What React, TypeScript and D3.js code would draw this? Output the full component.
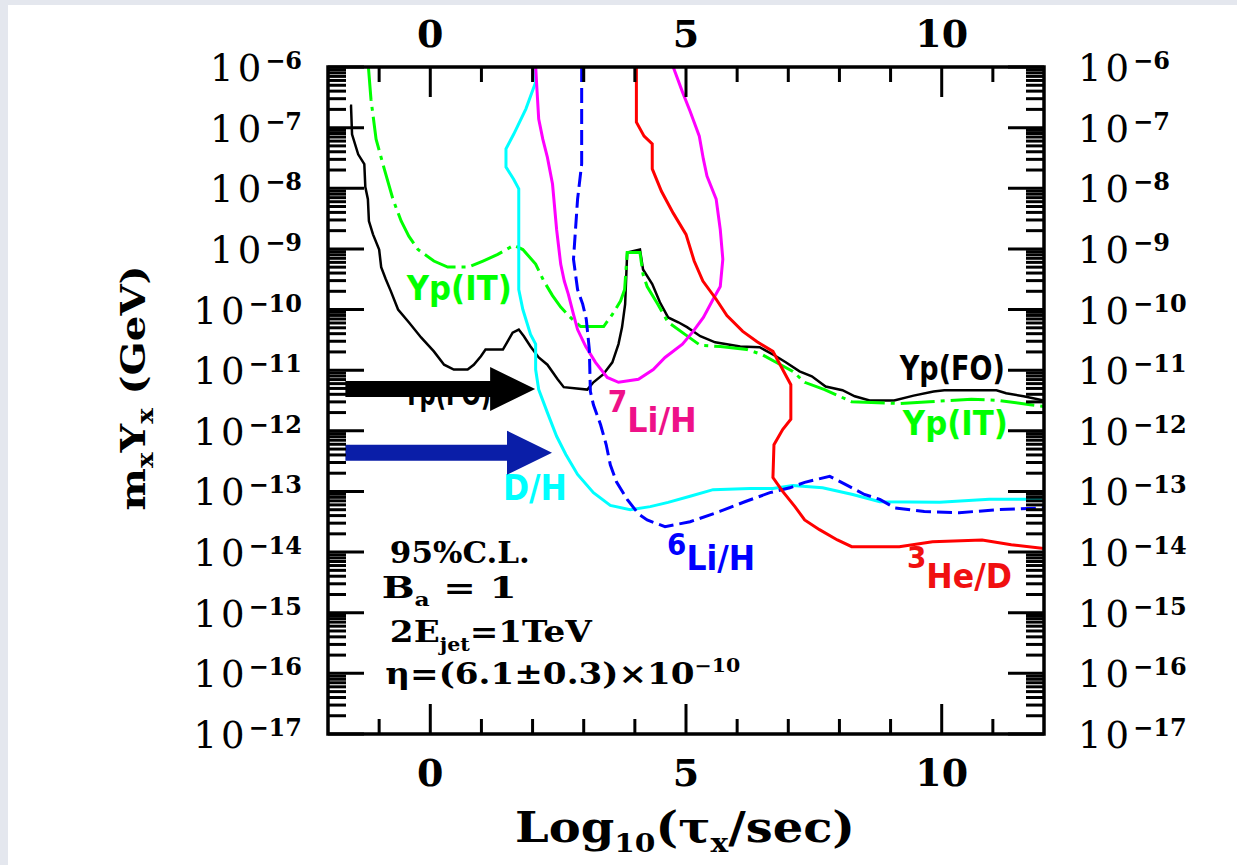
import React from "react";
import * as d3 from "d3";

// x = log10(tau_X / sec), y = log10(m_X Y_X / GeV)
const ypFO = [
  [-1.57, -6.64], [-1.55, -6.64], [-1.53, -7.11], [-1.41, -7.44], [-1.29, -7.6], [-1.27, -7.98],
  [-1.22, -8.18], [-1.2, -8.54], [-1.12, -8.76], [-1.0, -9.01], [-0.96, -9.3], [-0.87, -9.5],
  [-0.77, -9.7], [-0.63, -10.0], [-0.42, -10.21], [-0.18, -10.46], [0.07, -10.69], [0.27, -10.91],
  [0.46, -10.99], [0.73, -10.99], [0.85, -10.91], [0.99, -10.77], [1.08, -10.66], [1.42, -10.66],
  [1.51, -10.53], [1.61, -10.38], [1.73, -10.33], [1.83, -10.44], [1.96, -10.61], [2.12, -10.79],
  [2.29, -10.91], [2.49, -11.15], [2.61, -11.28], [3.07, -11.32], [3.19, -11.2], [3.38, -11.07],
  [3.56, -10.87], [3.68, -10.57], [3.75, -10.29], [3.81, -9.91], [3.85, -9.06], [4.1, -9.01],
  [4.16, -9.34], [4.34, -9.58], [4.49, -9.88], [4.65, -10.13], [4.85, -10.21], [5.02, -10.29],
  [5.28, -10.44], [5.57, -10.54], [6.06, -10.61], [6.44, -10.62], [6.76, -10.77], [6.95, -10.87],
  [7.22, -11.02], [7.46, -11.1], [7.73, -11.27], [8.06, -11.33], [8.3, -11.43], [8.59, -11.5],
  [9.07, -11.5], [9.45, -11.42], [9.84, -11.35], [10.05, -11.33], [11.07, -11.33], [11.26, -11.38],
  [11.6, -11.43], [12.0, -11.5],
];

const ypIT = [
  [-1.21, -6.0], [-1.16, -6.53], [-1.06, -7.19], [-0.9, -7.68], [-0.73, -8.18], [-0.57, -8.54],
  [-0.42, -8.79], [-0.24, -9.01], [0.07, -9.2], [0.34, -9.3], [0.75, -9.3], [1.03, -9.2],
  [1.32, -9.09], [1.63, -8.94], [1.81, -9.01], [2.06, -9.25], [2.22, -9.53], [2.39, -9.77],
  [2.55, -9.96], [2.74, -10.13], [2.94, -10.28], [3.39, -10.28], [3.56, -10.08], [3.72, -9.86],
  [3.8, -9.67], [3.85, -9.06], [4.1, -9.06], [4.16, -9.42], [4.24, -9.62], [4.44, -9.9],
  [4.65, -10.21], [4.98, -10.41], [5.28, -10.59], [5.67, -10.61], [6.19, -10.66], [6.48, -10.74],
  [6.76, -10.87], [7.09, -11.02], [7.32, -11.2], [7.71, -11.32], [8.24, -11.52], [9.17, -11.55],
  [9.76, -11.52], [10.58, -11.48], [11.13, -11.5], [11.73, -11.57], [12.0, -11.6],
];

const dH = [
  [2.06, -6.0], [2.06, -6.25], [1.87, -6.69], [1.63, -7.11], [1.48, -7.35], [1.48, -7.65],
  [1.63, -7.85], [1.73, -8.01], [1.73, -9.67], [1.81, -10.0], [1.96, -10.41], [2.06, -10.57],
  [2.06, -10.99], [2.12, -11.32], [2.29, -11.7], [2.47, -12.09], [2.65, -12.39], [2.88, -12.72],
  [3.19, -13.02], [3.52, -13.23], [3.91, -13.3], [4.3, -13.25], [4.65, -13.18], [5.08, -13.08],
  [5.53, -12.97], [6.25, -12.95], [6.7, -12.95], [7.09, -12.9], [7.67, -12.94], [8.26, -13.05],
  [8.79, -13.17], [9.96, -13.18], [10.93, -13.13], [12.0, -13.13],
];

const li7H = [
  [2.06, -6.0], [2.12, -6.86], [2.2, -7.19], [2.29, -7.49], [2.39, -7.93], [2.47, -8.68],
  [2.55, -9.25], [2.62, -9.53], [2.7, -9.75], [2.8, -10.08], [2.88, -10.33], [3.04, -10.61],
  [3.23, -10.87], [3.46, -11.12], [3.68, -11.2], [4.07, -11.15], [4.36, -10.99], [4.59, -10.79],
  [4.93, -10.57], [5.14, -10.36], [5.34, -10.13], [5.53, -9.83], [5.67, -9.62], [5.72, -9.17],
  [5.67, -8.68], [5.59, -8.18], [5.41, -7.8], [5.34, -7.52], [5.26, -7.14], [5.08, -6.73],
  [4.93, -6.41], [4.75, -6.0],
];

const li6H = [
  [2.96, -6.0], [2.96, -7.6], [2.88, -8.18], [2.8, -9.17], [2.88, -9.67], [2.98, -9.91],
  [3.05, -10.16], [3.11, -10.66], [3.13, -11.35], [3.19, -11.57], [3.33, -11.9], [3.44, -12.23],
  [3.52, -12.56], [3.64, -12.84], [3.85, -13.13], [4.07, -13.37], [4.24, -13.47], [4.59, -13.58],
  [5.08, -13.5], [5.66, -13.33], [6.15, -13.17], [6.64, -13.02], [7.03, -12.94], [7.32, -12.85],
  [7.81, -12.75], [8.2, -12.92], [8.49, -13.05], [8.79, -13.13], [9.08, -13.27], [9.66, -13.33],
  [10.34, -13.35], [11.12, -13.3], [12.0, -13.27],
];

const he3D = [
  [4.03, -6.0], [4.03, -6.91], [4.18, -7.14], [4.34, -7.27], [4.34, -7.68], [4.52, -8.05],
  [4.75, -8.41], [5.0, -8.76], [5.16, -9.2], [5.33, -9.53], [5.59, -9.83], [5.8, -10.1],
  [6.11, -10.36], [6.39, -10.53], [6.7, -10.69], [6.89, -10.99], [7.05, -11.24], [7.05, -11.81],
  [6.89, -11.98], [6.72, -12.23], [6.7, -12.77], [6.89, -13.0], [7.13, -13.25], [7.32, -13.47],
  [7.61, -13.63], [7.96, -13.8], [8.24, -13.91], [9.17, -13.91], [9.82, -13.83], [10.79, -13.8],
  [11.36, -13.88], [12.0, -13.94],
];

const tauTicks = d3.range(-1, 12);
const tauLabels = [0, 5, 10];
const decades = d3.range(-17, -5);
const mantissas = d3.range(2, 10);

const arrows = [
  { from: -1.66, to: 2.05, at: -11.31, color: "#000000" },
  { from: -1.66, to: 2.38, at: -12.36, color: "#0A1EA8" },
];

const W = 1237;
const H = 865;
const left = 328, right = 1044, top = 67, bottom = 734;

const serif = "'DejaVu Serif', serif";
const sans = "'DejaVu Sans', sans-serif";

export default function App() {
  const x = d3.scaleLinear().domain([-2, 12]).range([left, right]);
  const y = d3.scaleLog().domain([1e-17, 1e-6]).range([bottom, top]);
  const yy = (e: number) => y(Math.pow(10, e));

  const line = d3
    .line<number[]>()
    .x((d) => x(d[0]))
    .y((d) => yy(d[1]));

  const series = [
    { data: ypFO, color: "#000000", width: 2.5, dash: "none" },
    { data: ypIT, color: "#00FF00", width: 3, dash: "34,6,4,6" },
    { data: dH, color: "#00FFFF", width: 3, dash: "none" },
    { data: li7H, color: "#FF00FF", width: 3, dash: "none" },
    { data: li6H, color: "#0000FF", width: 3, dash: "15,6" },
    { data: he3D, color: "#FF0000", width: 3, dash: "none" },
  ];

  const minorY: number[] = [];
  decades.slice(0, -1).forEach((d) => mantissas.forEach((m) => minorY.push(m * Math.pow(10, d))));

  const yLabel = (d: number, xPos: number, anchor: string) => (
    <text x={xPos} y={yy(d) + 14} textAnchor={anchor}>
      <tspan fontSize={37} letterSpacing={4}>10</tspan>
      <tspan fontSize={24} fontWeight="bold" dy={-12}>{"−" + Math.abs(d)}</tspan>
    </text>
  );

  return (
    <svg width={W} height={H} style={{ position: "absolute", left: 0, top: 0, background: "#fff" }}>
      <rect x={0} y={0} width={W} height={5} fill="#E4E7EE" />
      <rect x={0} y={0} width={8} height={H} fill="#E4E7EE" />

      <defs>
        <clipPath id="plot">
          <rect x={left} y={top} width={right - left} height={bottom - top} />
        </clipPath>
      </defs>

      {/* curves */}
      <g clipPath="url(#plot)" fill="none">
        {series.map((s, i) => (
          <path key={i} d={line(s.data) || ""} stroke={s.color} strokeWidth={s.width}
            strokeDasharray={s.dash} strokeLinejoin="miter" />
        ))}
      </g>

      {/* curve labels */}
      <g fontFamily={sans} fontWeight="bold">
        <text x={x(-0.46)} y={yy(-9.84)} fontSize={34} fill="#00FF00" textLength={105} lengthAdjust="spacingAndGlyphs">Yp(IT)</text>
        <text x={x(-0.53)} y={yy(-11.57)} fontSize={32} fill="#000" textLength={88} lengthAdjust="spacingAndGlyphs">Yp(FO)</text>
        <text x={x(9.18)} y={yy(-11.16)} fontSize={34} fill="#000" textLength={105} lengthAdjust="spacingAndGlyphs">Yp(FO)</text>
        <text x={x(9.24)} y={yy(-12.07)} fontSize={34} fill="#00FF00" textLength={105} lengthAdjust="spacingAndGlyphs">Yp(IT)</text>
        <text x={x(3.47)} y={yy(-12.02)} fontSize={34} fill="#EE1188" textLength={89} lengthAdjust="spacingAndGlyphs">
          <tspan fontSize={30} dy={-20}>7</tspan><tspan dy={20}>Li/H</tspan>
        </text>
        <text x={x(1.42)} y={yy(-13.14)} fontSize={36} fill="#00FFFF" textLength={64} lengthAdjust="spacingAndGlyphs">D/H</text>
        <text x={x(4.63)} y={yy(-14.29)} fontSize={34} fill="#0000FF" textLength={88} lengthAdjust="spacingAndGlyphs">
          <tspan fontSize={30} dy={-15}>6</tspan><tspan dy={15}>Li/H</tspan>
        </text>
        <text x={x(9.32)} y={yy(-14.59)} fontSize={34} fill="#F01010" textLength={105} lengthAdjust="spacingAndGlyphs">
          <tspan fontSize={30} dy={-20}>3</tspan><tspan dy={20}>He/D</tspan>
        </text>
      </g>

      {/* arrows */}
      {arrows.map((a, i) => {
        const x0 = x(a.from), x1 = x(a.to), yc = yy(a.at);
        const hb = x1 - 45;
        const p = d3.path();
        p.moveTo(x0, yc - 8);
        p.lineTo(hb, yc - 8);
        p.lineTo(hb, yc - 22);
        p.lineTo(x1, yc);
        p.lineTo(hb, yc + 22);
        p.lineTo(hb, yc + 8);
        p.lineTo(x0, yc + 8);
        p.closePath();
        return <path key={i} d={p.toString()} fill={a.color} />;
      })}

      {/* conditions */}
      <g fontFamily={serif} fontWeight="bold" fill="#000">
        <text x={x(-0.79)} y={yy(-14.18)} fontSize={30} textLength={140} lengthAdjust="spacingAndGlyphs">95%C.L.</text>
        <text x={x(-0.95)} y={yy(-14.76)} fontSize={30} textLength={135} lengthAdjust="spacingAndGlyphs">
          B<tspan fontSize={18} dy={8}>a</tspan><tspan dy={-8}> = 1</tspan>
        </text>
        <text x={x(-0.79)} y={yy(-15.48)} fontSize={30} textLength={202} lengthAdjust="spacingAndGlyphs">
          2E<tspan fontSize={18} dy={9}>jet</tspan><tspan dy={-9}>=1TeV</tspan>
        </text>
        <text x={x(-0.88)} y={yy(-16.17)} fontSize={30} textLength={355} lengthAdjust="spacingAndGlyphs">
          η=(6.1±0.3)×10<tspan fontSize={18} dy={-12}>−10</tspan>
        </text>
      </g>

      {/* frame and ticks */}
      <g stroke="#000" strokeWidth={3}>
        <rect x={left} y={top} width={right - left} height={bottom - top} fill="none" strokeWidth={3.5} />
        {tauTicks.map((t) => {
          const len = tauLabels.includes(t) ? 30 : 15;
          return (
            <g key={t}>
              <line x1={x(t)} x2={x(t)} y1={top} y2={top + len} />
              <line x1={x(t)} x2={x(t)} y1={bottom} y2={bottom - len} />
            </g>
          );
        })}
        {decades.map((d) => (
          <g key={d}>
            <line x1={left} x2={left + 36} y1={yy(d)} y2={yy(d)} />
            <line x1={right} x2={right - 36} y1={yy(d)} y2={yy(d)} />
          </g>
        ))}
        {minorY.map((v, i) => (
          <g key={i}>
            <line x1={left} x2={left + 18} y1={y(v)} y2={y(v)} />
            <line x1={right} x2={right - 18} y1={y(v)} y2={y(v)} />
          </g>
        ))}
      </g>

      {/* tick labels */}
      <g fontFamily={serif} fontWeight="bold" fontSize={38} textAnchor="middle" fill="#000">
        {tauLabels.map((t) => (
          <g key={t}>
            <text x={x(t)} y={47}>{t}</text>
            <text x={x(t)} y={786}>{t}</text>
          </g>
        ))}
      </g>
      <g fontFamily={serif} fill="#000">
        {decades.map((d) => (
          <g key={d}>
            {yLabel(d, 302, "end")}
            {yLabel(d, 1078, "start")}
          </g>
        ))}
      </g>

      {/* axis titles */}
      <text x={685} y={842} fontFamily={serif} fontWeight="bold" fontSize={42} textAnchor="middle"
        textLength={340} lengthAdjust="spacingAndGlyphs">
        Log<tspan fontSize={26} dy={10}>10</tspan><tspan dy={-10}>(τ</tspan>
        <tspan fontSize={26} dy={10}>x</tspan><tspan dy={-10}>/sec)</tspan>
      </text>
      <text transform="translate(145,388) rotate(-90)" fontFamily={serif} fontWeight="bold" fontSize={34}
        textAnchor="middle" textLength={245} lengthAdjust="spacingAndGlyphs">
        m<tspan fontSize={22} dy={8}>x</tspan><tspan dy={-8}>Y</tspan>
        <tspan fontSize={22} dy={8}>x</tspan><tspan dy={-8}> (GeV)</tspan>
      </text>
    </svg>
  );
}
